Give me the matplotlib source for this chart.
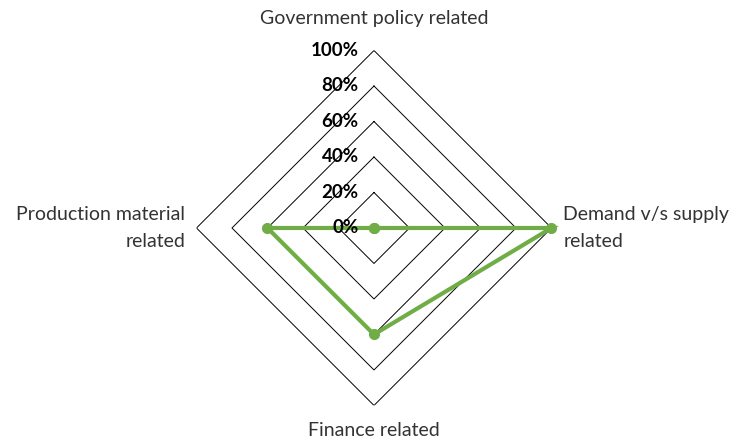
import numpy as np
import matplotlib
matplotlib.use("Agg")
import matplotlib.pyplot as plt

plt.rcParams['font.family'] = ['Lato', 'DejaVu Sans']

categories = ["Government policy related", "Demand v/s supply\nrelated",
              "Finance related", "Production material\nrelated"]
values = [0.0, 1.0, 0.6, 0.6]
rings = [0.2, 0.4, 0.6, 0.8, 1.0]
ring_labels = ["0%", "20%", "40%", "60%", "80%", "100%"]

fig = plt.figure(figsize=(7.31, 4.42), dpi=100)
ax = fig.add_axes([0.2688, 0.0826, 0.4856, 0.8032], projection='polar')
ax.set_theta_offset(np.pi / 2)
ax.set_theta_direction(-1)
ax.set_ylim(0, 1)
ax.grid(False)
ax.spines['polar'].set_visible(False)
ax.set_xticks([])
ax.set_yticks([])
ax.patch.set_alpha(0)

n = len(categories)
theta = np.linspace(0, 2 * np.pi, n, endpoint=False)
theta_c = np.append(theta, theta[0])

# diamond grid
for r in rings:
    ax.plot(theta_c, [r] * (n + 1), color='black', lw=0.7, zorder=1)

# series
vals = values + values[:1]
ax.plot(theta_c, vals, color='#70AD47', lw=3, marker='o', ms=7,
        solid_joinstyle='miter', zorder=3, clip_on=False)

# radial tick labels
for r, lab in zip([0.0] + rings, ring_labels):
    ax.annotate(lab, xy=(0, r), xytext=(-11, 0), textcoords='offset points',
                ha='right', va='center', fontsize=13.5, fontweight='bold',
                color='black', zorder=4)

# category labels
offsets = [(0, 17), (8.5, 0), (0, -12), (-8, 0)]
aligns = [('center', 'bottom'), ('left', 'center'), ('center', 'top'), ('right', 'center')]
for t, lab, off, (ha, va) in zip(theta, categories, offsets, aligns):
    ax.annotate(lab, xy=(t, 1), xytext=off, textcoords='offset points',
                ha=ha, va=va, fontsize=14, color='#333333',
                multialignment=ha if ha != 'center' else 'center',
                linespacing=1.65, annotation_clip=False)

fig.savefig("out.png", dpi=100)
